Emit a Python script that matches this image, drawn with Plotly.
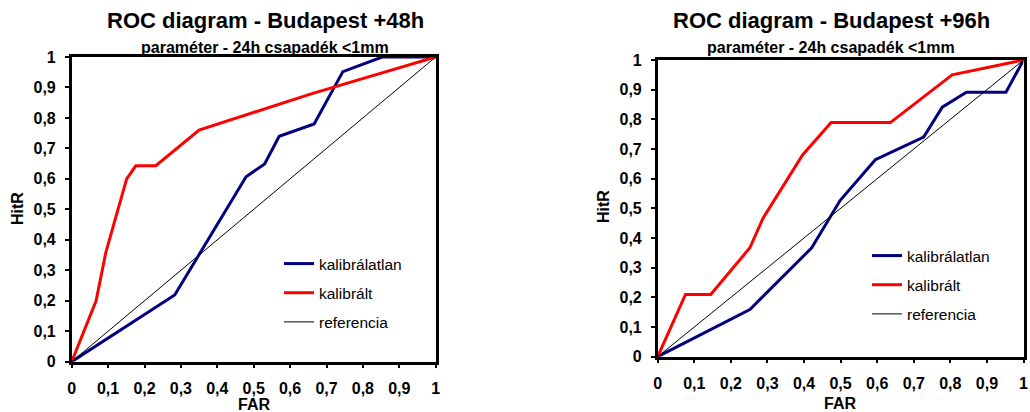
import plotly.graph_objects as go

# ---- data ----
far_48_kal = [0, 0.283, 0.479, 0.53, 0.57, 0.666, 0.745, 0.853, 1.0]
hitr_48_kal = [0, 0.219, 0.607, 0.649, 0.74, 0.78, 0.952, 1.0, 1.0]
far_48_cal = [0, 0.067, 0.094, 0.12, 0.151, 0.176, 0.231, 0.35, 0.66, 1.0]
hitr_48_cal = [0, 0.2, 0.36, 0.47, 0.6, 0.643, 0.643, 0.76, 0.88, 1.0]

far_96_kal = [0, 0.252, 0.421, 0.499, 0.595, 0.727, 0.778, 0.844, 0.952, 1.0]
hitr_96_kal = [0, 0.159, 0.367, 0.527, 0.664, 0.74, 0.841, 0.891, 0.891, 1.0]
far_96_cal = [0, 0.076, 0.145, 0.252, 0.288, 0.396, 0.474, 0.636, 0.805, 1.0]
hitr_96_cal = [0, 0.21, 0.21, 0.367, 0.467, 0.68, 0.789, 0.789, 0.95, 1.0]

ref_x = [0, 1]
ref_y = [0, 1]

names = ["kalibrálatlan", "kalibrált", "referencia"]
titles = ["ROC diagram - Budapest +48h", "ROC diagram - Budapest +96h"]
subtitle = "paraméter - 24h csapadék <1mm"

FONT = "Liberation Sans, Arial, sans-serif"
W, H = 1030, 412

fig = go.Figure()

def add_panel(fx_k, fy_k, fx_c, fy_c, xa, ya, leg, grp):
    fig.add_trace(go.Scatter(x=fx_k, y=fy_k, mode="lines", name=names[0],
                             line=dict(color="#000080", width=3),
                             xaxis=xa, yaxis=ya, legend=leg, legendgroup=grp + "a"))
    fig.add_trace(go.Scatter(x=fx_c, y=fy_c, mode="lines", name=names[1],
                             line=dict(color="#FF0000", width=3),
                             xaxis=xa, yaxis=ya, legend=leg, legendgroup=grp + "b"))
    fig.add_trace(go.Scatter(x=ref_x, y=ref_y, mode="lines", name=names[2],
                             line=dict(color="#000000", width=1),
                             xaxis=xa, yaxis=ya, legend=leg, legendgroup=grp + "c"))

add_panel(far_48_kal, hitr_48_kal, far_48_cal, hitr_48_cal, "x", "y", "legend", "L")
add_panel(far_96_kal, hitr_96_kal, far_96_cal, hitr_96_cal, "x2", "y2", "legend2", "R")

tickfont = dict(family=FONT, size=16, color="black", weight="bold")
axis_common = dict(range=[0, 1], dtick=0.1, tick0=0, showgrid=False, zeroline=False,
                   showline=True, linecolor="black", linewidth=2.5, mirror=True,
                   ticks="outside", ticklen=4, tickwidth=1.5, tickcolor="black",
                   tickfont=tickfont, fixedrange=True, automargin=False)

def px2x(p):
    return p / W

def px2y(p):
    return 1 - p / H

legfont = dict(family=FONT, size=15.5, color="black")

fig.update_layout(
    template="none",
    width=W, height=H,
    margin=dict(l=0, r=0, t=0, b=0, pad=0, autoexpand=False),
    paper_bgcolor="white", plot_bgcolor="white",
    separators=", ",
    showlegend=True,
    font=dict(family=FONT, color="black"),
    xaxis=dict(domain=[px2x(71.7), px2x(435.7)], anchor="y", ticklabelstandoff=6, **axis_common),
    yaxis=dict(domain=[px2y(361.7), px2y(57)], anchor="x", ticklabelstandoff=6, **axis_common),
    xaxis2=dict(domain=[px2x(657.7), px2x(1023.5)], anchor="y2", ticklabelstandoff=6, **axis_common),
    yaxis2=dict(domain=[px2y(356.7), px2y(60)], anchor="x2", ticklabelstandoff=6, **axis_common),
    legend=dict(x=px2x(279), y=px2y(247), xanchor="left", yanchor="top",
                bgcolor="rgba(0,0,0,0)", font=legfont, borderwidth=0,
                traceorder="grouped", tracegroupgap=6, itemwidth=30),
    legend2=dict(x=px2x(867), y=px2y(239), xanchor="left", yanchor="top",
                 bgcolor="rgba(0,0,0,0)", font=legfont, borderwidth=0,
                 traceorder="grouped", tracegroupgap=6, itemwidth=30),
)

ann = []
for cx, t in [(265, titles[0]), (831, titles[1])]:
    ann.append(dict(x=px2x(cx), y=px2y(21), xref="paper", yref="paper", text="<b>%s</b>" % t,
                    showarrow=False, xanchor="center", yanchor="middle",
                    font=dict(family=FONT, size=22, color="black")))
    ann.append(dict(x=px2x(cx), y=px2y(47.5), xref="paper", yref="paper", text="<b>%s</b>" % subtitle,
                    showarrow=False, xanchor="center", yanchor="middle",
                    font=dict(family=FONT, size=16, color="black")))
for cx, cy in [(254, 404), (840, 403)]:
    ann.append(dict(x=px2x(cx), y=px2y(cy), xref="paper", yref="paper", text="<b>FAR</b>",
                    showarrow=False, xanchor="center", yanchor="middle", borderpad=0,
                    font=dict(family=FONT, size=16, color="black")))
for cx, cy in [(17, 209), (603, 207)]:
    ann.append(dict(x=px2x(cx), y=px2y(cy), xref="paper", yref="paper", text="<b>HitR</b>",
                    showarrow=False, xanchor="center", yanchor="middle", textangle=-90,
                    font=dict(family=FONT, size=16, color="black")))
fig.update_layout(annotations=ann)

fig.write_html("out.html")
